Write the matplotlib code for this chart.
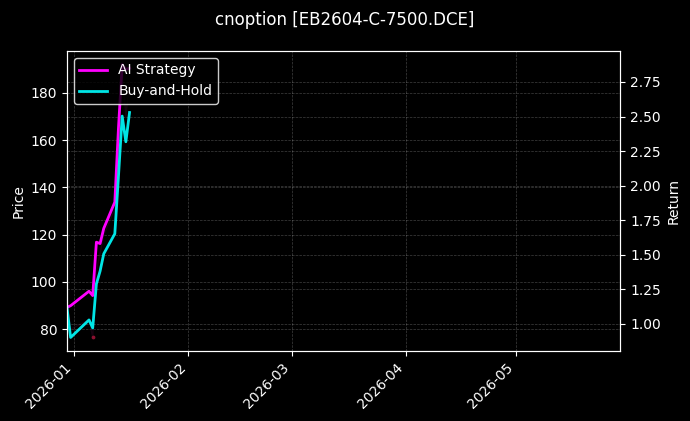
import numpy as np
import pandas as pd
import matplotlib
matplotlib.use('Agg')
import matplotlib.pyplot as plt
import matplotlib.dates as mdates

plt.style.use('dark_background')

title = 'cnoption [EB2604-C-7500.DCE]'

dates = pd.to_datetime([
    '2025-12-30', '2025-12-31', '2026-01-05', '2026-01-06', '2026-01-07', '2026-01-08',
    '2026-01-09', '2026-01-12', '2026-01-13', '2026-01-14', '2026-01-15', '2026-01-16',
])
price = [95.0, 80.0, 84.0, 76.5, 105.0, 112.0, 120.0, 131.0, 160.0, 192.0, 170.0, 185.0]
ai_strategy = [1.118, 1.13, 1.235, 1.203, 1.59, 1.58, 1.69, 1.88, 2.42, 2.876, 2.84, 2.85]
buy_hold = [1.118, 0.90, 1.027, 0.969, 1.288, 1.38, 1.506, 1.651, 2.07, 2.503, 2.317, 2.529]
signal_dates = pd.to_datetime(['2026-01-06'])
signal_price = [76.5]

fig, ax = plt.subplots(figsize=(6.9, 4.21), dpi=100)
fig.patch.set_facecolor('black')
ax.set_facecolor('black')
fig.subplots_adjust(left=0.097, right=0.899, top=0.879, bottom=0.166)

# price on the left axis, drawn faint
ax.plot(dates, price, color='#2a0820', linewidth=1, alpha=0.5)
ax.scatter(signal_dates, signal_price, color='#8b1030', s=3, zorder=3)
ax.set_ylabel('Price', color='white')
ax.grid(True, color='white', alpha=0.25, linestyle='--', linewidth=0.5)

ax2 = ax.twinx()
ax2.plot(dates, ai_strategy, color='#ff00ff', linewidth=2, label='AI Strategy')
ax2.plot(dates, buy_hold, color='#00ffff', linewidth=2, alpha=0.9, label='Buy-and-Hold')
ax2.set_ylabel('Return', color='white')
ax2.grid(True, color='white', alpha=0.25, linestyle='--', linewidth=0.5)

ax.set_xlim(pd.Timestamp('2025-12-30'), pd.Timestamp('2026-05-29 06:00'))
ax.xaxis.set_major_locator(mdates.MonthLocator())
ax.xaxis.set_major_formatter(mdates.DateFormatter('%Y-%m'))
plt.setp(ax.get_xticklabels(), rotation=45, ha='right')

for a in (ax, ax2):
    for sp in a.spines.values():
        sp.set_color('white')

leg = ax2.legend(loc='upper left', facecolor='black', edgecolor='white', framealpha=0.8)
for t in leg.get_texts():
    t.set_color('white')

fig.suptitle(title, color='white', fontsize=12, y=0.975)

fig.savefig('out.png', dpi=100, facecolor='black')
